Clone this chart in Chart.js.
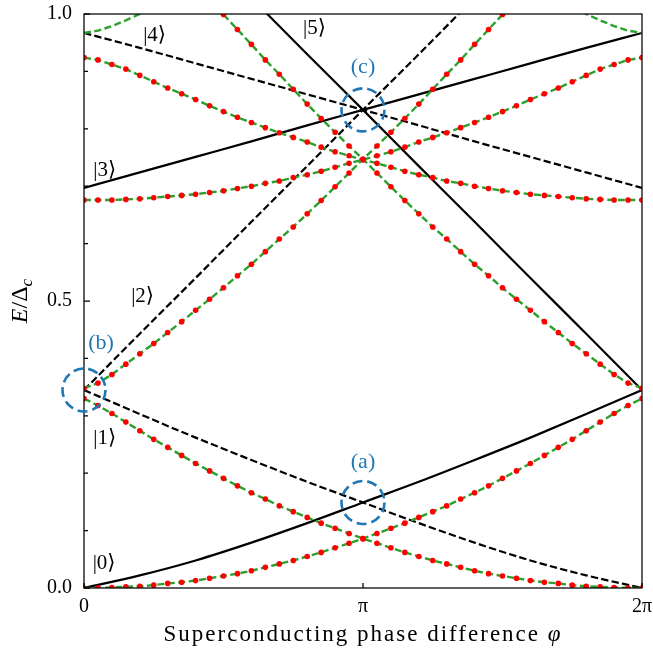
<!DOCTYPE html>
<html>
<head>
<meta charset="utf-8">
<script src="https://cdn.jsdelivr.net/npm/chart.js@4.4.1/dist/chart.umd.min.js"></script>
<style>
  html, body { margin: 0; padding: 0; background: #fff; }
  canvas { display: block; }
</style>
</head>
<body>
<canvas id="chart" width="653" height="654"></canvas>
<script>
// phase values in units of pi (sampled levels, one dot each)
const PHI = [0, 0.05, 0.1, 0.15, 0.2, 0.25, 0.3, 0.35, 0.4, 0.45, 0.5, 0.55, 0.6, 0.65, 0.7, 0.75, 0.8, 0.85, 0.9, 0.95,
  1, 1.05, 1.1, 1.15, 1.2, 1.25, 1.3, 1.35, 1.4, 1.45, 1.5, 1.55, 1.6, 1.65, 1.7, 1.75, 1.8, 1.85, 1.9, 1.95, 2];
// coarse phase grid for the uncoupled levels
const PHI_COARSE = [0, 0.2, 0.4, 0.6, 0.8, 1, 1.2, 1.4, 1.6, 1.8, 2];

// uncoupled levels |0>..|5>
const LEVEL_0 = [0, 0.022, 0.048, 0.079, 0.113, 0.149, 0.185, 0.223, 0.262, 0.303, 0.345];
const LEVEL_1 = [0.345, 0.303, 0.262, 0.223, 0.185, 0.149, 0.113, 0.079, 0.048, 0.022, 0];
const LEVEL_2 = [0.345, 0.443, 0.540, 0.638, 0.735, 0.833, 0.930, 1.028, null, null, null];
const LEVEL_3 = [0.697, 0.724, 0.751, 0.778, 0.806, 0.833, 0.860, 0.887, 0.914, 0.941, 0.967];
const LEVEL_4 = [0.967, 0.941, 0.914, 0.887, 0.860, 0.833, 0.806, 0.778, 0.751, 0.724, 0.697];
const LEVEL_5 = [null, null, null, 1.028, 0.930, 0.833, 0.735, 0.638, 0.540, 0.443, 0.345];

// coupled levels (green dashed, red dots)
const MIX_A = [0.000, 0.000, 0.001, 0.002, 0.003, 0.005, 0.008, 0.010, 0.013, 0.017, 0.021, 0.025, 0.030, 0.036, 0.042, 0.048, 0.055, 0.062, 0.070, 0.078,
  0.086, 0.095, 0.104, 0.113, 0.123, 0.133, 0.143, 0.155, 0.166, 0.178, 0.191, 0.204, 0.217, 0.231, 0.245, 0.259, 0.274, 0.289, 0.304, 0.318, 0.330];
const MIX_B = [0.330, 0.318, 0.304, 0.289, 0.274, 0.259, 0.245, 0.231, 0.217, 0.204, 0.191, 0.178, 0.166, 0.155, 0.143, 0.133, 0.123, 0.113, 0.104, 0.095,
  0.086, 0.078, 0.070, 0.062, 0.055, 0.048, 0.042, 0.036, 0.030, 0.025, 0.021, 0.017, 0.013, 0.010, 0.008, 0.005, 0.003, 0.002, 0.001, 0.000, 0.000];
const MIX_C = [0.348, 0.357, 0.372, 0.390, 0.408, 0.426, 0.445, 0.464, 0.484, 0.503, 0.523, 0.544, 0.564, 0.586, 0.608, 0.629, 0.652, 0.675, 0.699, 0.723,
  0.747, 0.770, 0.794, 0.818, 0.843, 0.869, 0.895, 0.920, 0.947, 0.973, 0.999, 1.026, null, null, null, null, null, null, null, null, null];
const MIX_D = [null, null, null, null, null, null, null, null, null, 1.026, 0.999, 0.973, 0.947, 0.920, 0.895, 0.869, 0.843, 0.818, 0.794, 0.770,
  0.747, 0.723, 0.699, 0.675, 0.652, 0.629, 0.608, 0.586, 0.564, 0.544, 0.523, 0.503, 0.484, 0.464, 0.445, 0.426, 0.408, 0.390, 0.372, 0.357, 0.348];
const MIX_E = [0.924, 0.920, 0.912, 0.904, 0.893, 0.882, 0.871, 0.861, 0.851, 0.840, 0.830, 0.820, 0.811, 0.802, 0.793, 0.785, 0.777, 0.768, 0.760, 0.753,
  0.746, 0.740, 0.733, 0.726, 0.720, 0.715, 0.709, 0.705, 0.700, 0.696, 0.692, 0.689, 0.686, 0.684, 0.682, 0.680, 0.678, 0.677, 0.676, 0.676, 0.676];
const MIX_F = [0.676, 0.676, 0.676, 0.677, 0.678, 0.680, 0.682, 0.684, 0.686, 0.689, 0.692, 0.696, 0.700, 0.705, 0.709, 0.715, 0.720, 0.726, 0.733, 0.740,
  0.746, 0.753, 0.760, 0.768, 0.777, 0.785, 0.793, 0.802, 0.811, 0.820, 0.830, 0.840, 0.851, 0.861, 0.871, 0.882, 0.893, 0.904, 0.912, 0.920, 0.924];
// upper levels leaving the window (green dashed only)
const TOP_L = [0.967, 0.971, 0.979, 0.989, 1.000, 1.012, null, null, null, null, null, null, null, null, null, null, null, null, null, null,
  null, null, null, null, null, null, null, null, null, null, null, null, null, null, null, 1.012, 1.000, 0.989, 0.979, 0.971, 0.967];

const X_TICKS = [0, 1, 2];
const X_TICK_LABELS = ["0", "π", "2π"];
const Y_TICKS = [0, 0.1, 0.2, 0.3, 0.4, 0.5, 0.6, 0.7, 0.8, 0.9, 1.0];
const Y_MAJOR = [0, 0.5, 1.0];

const KETS = ["|0⟩", "|1⟩", "|2⟩", "|3⟩", "|4⟩", "|5⟩"];
const KET_X = [0.072, 0.074, 0.21, 0.074, 0.253, 0.826];
const KET_Y = [0.042, 0.26, 0.507, 0.728, 0.963, 0.975];

const MARKS = ["(a)", "(b)", "(c)"];
const MARK_X = [1, 0, 1];
const MARK_Y = [0.149, 0.345, 0.833];

const GREEN = "#2ca02c";
const RED = "#ff0000";
const BLUE = "#1f77b4";
const SERIF = "'Liberation Serif', 'DejaVu Serif', serif";

function pts(xs, ys) {
  return xs.map((x, i) => ({ x, y: ys[i] }));
}

function level(ys, dashed) {
  return {
    data: pts(PHI_COARSE, ys),
    borderColor: "#000",
    borderWidth: 2.2,
    borderDash: dashed ? [7.4, 3.2] : [],
    pointRadius: 0,
    cubicInterpolationMode: "monotone",
    order: 3,
  };
}

function mixed(ys, dots) {
  return {
    data: pts(PHI, ys),
    borderColor: GREEN,
    borderWidth: 2.4,
    borderDash: [7, 3.5],
    pointRadius: dots ? 2.8 : 0,
    pointBackgroundColor: RED,
    pointBorderWidth: 0,
    tension: 0,
    order: dots ? 1 : 2,
  };
}

const overlay = {
  id: "overlay",
  afterDatasetsDraw(chart) {
    const { ctx, chartArea: a, scales: { x, y } } = chart;
    ctx.save();

    // frame + inward ticks
    ctx.strokeStyle = "#000";
    ctx.lineWidth = 1.25;
    ctx.strokeRect(a.left, a.top, a.right - a.left, a.bottom - a.top);
    ctx.beginPath();
    for (const v of Y_TICKS) {
      const py = y.getPixelForValue(v);
      const len = Y_MAJOR.includes(v) ? 6 : 4;
      ctx.moveTo(a.left, py);
      ctx.lineTo(a.left + len, py);
    }
    for (const v of X_TICKS) {
      const px = x.getPixelForValue(v);
      ctx.moveTo(px, a.bottom);
      ctx.lineTo(px, a.bottom - 5);
    }
    ctx.stroke();

    // dashed circles marking crossings
    ctx.strokeStyle = BLUE;
    ctx.lineWidth = 2.6;
    ctx.setLineDash([10, 5]);
    MARKS.forEach((m, i) => {
      ctx.beginPath();
      ctx.arc(x.getPixelForValue(MARK_X[i]), y.getPixelForValue(MARK_Y[i]), 21.5, 0, Math.PI * 2);
      ctx.stroke();
    });
    ctx.setLineDash([]);

    ctx.textAlign = "center";
    ctx.textBaseline = "middle";
    ctx.fillStyle = BLUE;
    ctx.font = `22px ${SERIF}`;
    const markOffset = [[0, -40], [17, -47], [0, -43]];
    MARKS.forEach((m, i) => {
      ctx.fillText(m, x.getPixelForValue(MARK_X[i]) + markOffset[i][0], y.getPixelForValue(MARK_Y[i]) + markOffset[i][1]);
    });

    // state labels
    ctx.fillStyle = "#000";
    ctx.font = `21px ${SERIF}`;
    KETS.forEach((k, i) => {
      ctx.fillText(k, x.getPixelForValue(KET_X[i]), y.getPixelForValue(KET_Y[i]));
    });

    // axis titles
    ctx.textBaseline = "alphabetic";
    ctx.textAlign = "left";
    ctx.letterSpacing = "2px";
    const t1 = "Superconducting phase difference ";
    ctx.font = `23px ${SERIF}`;
    const w1 = ctx.measureText(t1).width;
    ctx.font = `italic 23px ${SERIF}`;
    const w2 = ctx.measureText("φ").width;
    const x0 = (a.left + a.right) / 2 - (w1 + w2) / 2;
    ctx.font = `23px ${SERIF}`;
    ctx.fillText(t1, x0, 641);
    ctx.font = `italic 23px ${SERIF}`;
    ctx.fillText("φ", x0 + w1, 641);
    ctx.letterSpacing = "0px";

    ctx.translate(27, (a.top + a.bottom) / 2);
    ctx.rotate(-Math.PI / 2);
    const parts = [
      ["E", `italic 24px ${SERIF}`, 0],
      ["/Δ", `24px ${SERIF}`, 0],
      ["c", `italic 17px ${SERIF}`, 5],
    ];
    let total = 0;
    for (const [t, f] of parts) { ctx.font = f; total += ctx.measureText(t).width; }
    let cx = -total / 2;
    for (const [t, f, dy] of parts) {
      ctx.font = f;
      ctx.fillText(t, cx, dy);
      cx += ctx.measureText(t).width;
    }
    ctx.restore();
  },
};

new Chart(document.getElementById("chart"), {
  type: "line",
  data: {
    datasets: [
      level(LEVEL_0, false),
      level(LEVEL_1, true),
      level(LEVEL_2, true),
      level(LEVEL_3, false),
      level(LEVEL_4, true),
      level(LEVEL_5, false),
      mixed(TOP_L, false),
      mixed(MIX_A, true),
      mixed(MIX_B, true),
      mixed(MIX_C, true),
      mixed(MIX_D, true),
      mixed(MIX_E, true),
      mixed(MIX_F, true),
    ],
  },
  options: {
    responsive: false,
    animation: false,
    events: [],
    spanGaps: false,
    layout: { padding: { top: 14, right: 11, left: 0, bottom: 0 } },
    plugins: { legend: { display: false }, tooltip: { enabled: false } },
    scales: {
      x: {
        type: "linear",
        min: 0,
        max: 2,
        grid: { display: false, drawTicks: false },
        border: { display: false },
        afterBuildTicks: (s) => { s.ticks = X_TICKS.map((v) => ({ value: v })); },
        afterFit: (s) => { s.height = 66; s.paddingLeft = 0; s.paddingRight = 0; },
        ticks: {
          padding: 7,
          color: "#000",
          font: { family: SERIF, size: 20 },
          maxRotation: 0,
          callback: (v) => X_TICK_LABELS[X_TICKS.indexOf(v)] ?? "",
        },
      },
      y: {
        type: "linear",
        min: 0,
        max: 1,
        grid: { display: false, drawTicks: false },
        border: { display: false },
        afterBuildTicks: (s) => { s.ticks = Y_TICKS.map((v) => ({ value: v })); },
        afterFit: (s) => { s.width = 84; s.paddingTop = 0; s.paddingBottom = 0; },
        ticks: {
          padding: 12,
          color: "#000",
          font: { family: SERIF, size: 20 },
          autoSkip: false,
          callback: (v) => (Y_MAJOR.includes(v) ? v.toFixed(1) : ""),
        },
      },
    },
  },
  plugins: [overlay],
});
</script>
</body>
</html>
